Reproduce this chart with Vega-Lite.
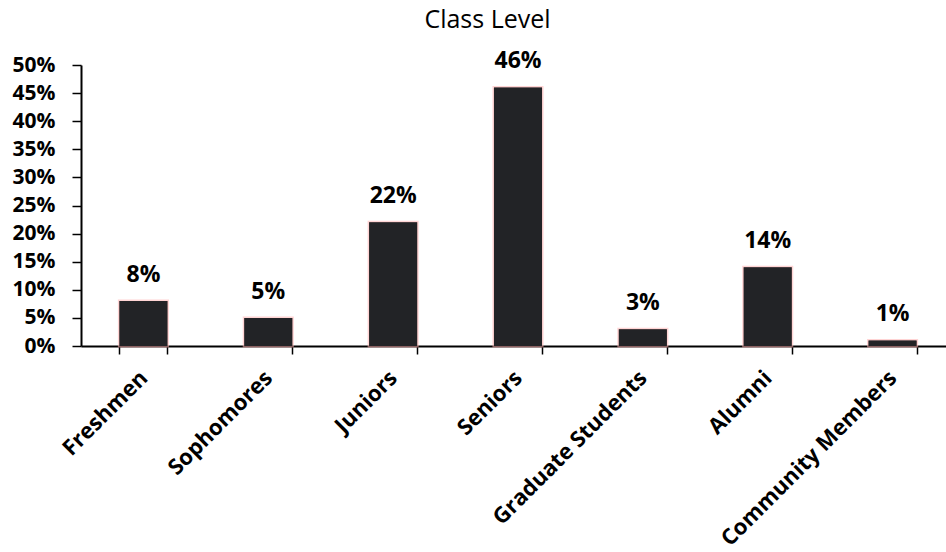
{
  "$schema": "https://vega.github.io/schema/vega-lite/v6.json",
  "autosize": {"type": "none"},
  "width": 865,
  "height": 281,
  "padding": {"left": 81, "top": 65, "right": 0, "bottom": 206},
  "background": "white",
  "title": {
    "text": "Class Level",
    "font": "Open Sans",
    "fontSize": 25,
    "fontWeight": "normal",
    "color": "#000000",
    "anchor": "middle",
    "dx": -26,
    "offset": 17
  },
  "data": {
    "values": [
      {"level": "Freshmen", "share": 0.08},
      {"level": "Sophomores", "share": 0.05},
      {"level": "Juniors", "share": 0.22},
      {"level": "Seniors", "share": 0.46},
      {"level": "Graduate Students", "share": 0.03},
      {"level": "Alumni", "share": 0.14},
      {"level": "Community Members", "share": 0.01}
    ]
  },
  "encoding": {
    "x": {
      "field": "level",
      "type": "nominal",
      "sort": null,
      "title": null,
      "scale": {"range": [0, 874], "paddingInner": 0.615, "paddingOuter": 0.3075},
      "axis": {
        "tickBand": "extent",
        "domainColor": "#000000",
        "domainWidth": 2,
        "tickColor": "#000000",
        "tickWidth": 1.5,
        "tickSize": 8,
        "labelAngle": -45,
        "labelAlign": "right",
        "labelBaseline": "middle",
        "labelPadding": 20,
        "labelLimit": 400,
        "labelFont": "Open Sans",
        "labelFontSize": 22,
        "labelFontWeight": "bold",
        "labelColor": "#000000"
      }
    },
    "y": {
      "field": "share",
      "type": "quantitative",
      "title": null,
      "scale": {"domain": [0, 0.5], "nice": false},
      "axis": {
        "values": [0, 0.05, 0.1, 0.15, 0.2, 0.25, 0.3, 0.35, 0.4, 0.45, 0.5],
        "format": ".0%",
        "grid": false,
        "domainColor": "#000000",
        "domainWidth": 2,
        "tickColor": "#000000",
        "tickWidth": 1.5,
        "tickSize": 9,
        "labelPadding": 17,
        "labelFont": "Open Sans",
        "labelFontSize": 21,
        "labelFontWeight": "bold",
        "labelColor": "#000000"
      }
    }
  },
  "layer": [
    {
      "mark": {"type": "bar", "fill": "#222326", "stroke": "#ffb0b0", "strokeWidth": 3, "strokeOpacity": 0.55}
    },
    {
      "mark": {"type": "bar", "fill": "#222326"}
    },
    {
      "mark": {
        "type": "text",
        "baseline": "alphabetic",
        "dy": -19,
        "font": "Open Sans",
        "fontSize": 23,
        "fontWeight": "bold",
        "color": "#000000"
      },
      "encoding": {
        "text": {"field": "share", "type": "quantitative", "format": ".0%"}
      }
    }
  ],
  "config": {
    "view": {"stroke": null}
  }
}
